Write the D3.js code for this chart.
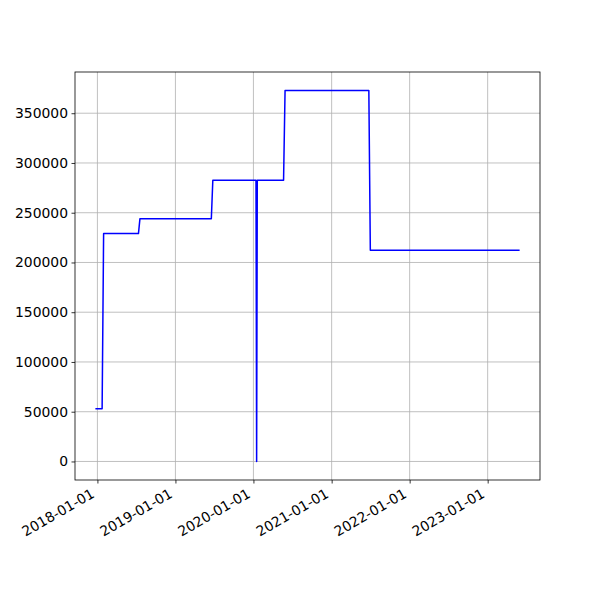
<!DOCTYPE html>
<html><head><meta charset="utf-8">
<script src="https://cdn.jsdelivr.net/npm/d3@7"></script>
<style>
body{margin:0;background:#fff;}
text{font-family:"DejaVu Sans",sans-serif;}
</style></head>
<body><svg id="c" width="600" height="600"></svg>
<script>
const dates = ["2017-12-26","2018-01-23","2018-01-30","2018-07-12","2018-07-19","2019-06-18","2019-06-25","2020-01-13","2020-01-16","2020-01-19","2020-05-21","2020-05-28","2021-06-24","2021-07-01","2023-05-27"];
const values = [53000,53000,229000,229000,244000,244000,282700,282700,0,282700,282700,372800,372800,212300,212300];
const yTicks = [0,50000,100000,150000,200000,250000,300000,350000];
const xTickLabels = ["2018-01-01","2019-01-01","2020-01-01","2021-01-01","2022-01-01","2023-01-01"];

const parse = d3.utcParse("%Y-%m-%d");
const data = dates.map((d,i)=>({x:parse(d), y:values[i]}));
const L=75,R=540,T=72,B=480;
const svg = d3.select("#c");

const xe = d3.extent(data,d=>+d.x), xs=xe[1]-xe[0];
const x = d3.scaleUtc().domain([new Date(xe[0]-0.05*xs), new Date(xe[1]+0.05*xs)]).range([L,R]);
const ye = d3.extent(data,d=>d.y), ys=ye[1]-ye[0];
const y = d3.scaleLinear().domain([ye[0]-0.05*ys, ye[1]+0.05*ys]).range([B,T]);

const xt = xTickLabels.map(parse);
// grid
svg.append("g").selectAll("line").data(xt).join("line")
  .attr("x1",d=>x(d)).attr("x2",d=>x(d)).attr("y1",T).attr("y2",B)
  .attr("stroke","#b0b0b0").attr("stroke-width",0.8);
svg.append("g").selectAll("line").data(yTicks).join("line")
  .attr("x1",L).attr("x2",R).attr("y1",d=>y(d)).attr("y2",d=>y(d))
  .attr("stroke","#b0b0b0").attr("stroke-width",0.8);

// line
svg.append("path").datum(data)
  .attr("d", d3.line().x(d=>x(d.x)).y(d=>y(d.y)))
  .attr("fill","none").attr("stroke","#0000ff").attr("stroke-width",1.5)
  .attr("stroke-linejoin","round").attr("stroke-linecap","square");

// axes
const ya = svg.append("g").attr("transform",`translate(${L},0)`)
  .call(d3.axisLeft(y).tickValues(yTicks).tickSize(3.5).tickPadding(3.5).tickFormat(d3.format("d")));
const xa = svg.append("g").attr("transform",`translate(0,${B})`)
  .call(d3.axisBottom(x).tickValues(xt).tickSize(3.5).tickFormat(d3.utcFormat("%Y-%m-%d")));
[ya,xa].forEach(a=>{a.select(".domain").remove(); a.selectAll("line").attr("stroke","#000").attr("stroke-width",0.8);
  a.selectAll("text").attr("font-size","13.9px").attr("fill","#000").attr("font-family","DejaVu Sans");});
xa.selectAll("text").attr("text-anchor","end").attr("dy",null).attr("y",null)
  .attr("transform","translate(-2.5,16.5) rotate(-30)");
ya.selectAll("text").attr("dy","0.32em");

svg.append("rect").attr("x",L).attr("y",T).attr("width",R-L).attr("height",B-T)
  .attr("fill","none").attr("stroke","#000").attr("stroke-width",0.8);
</script></body></html>
